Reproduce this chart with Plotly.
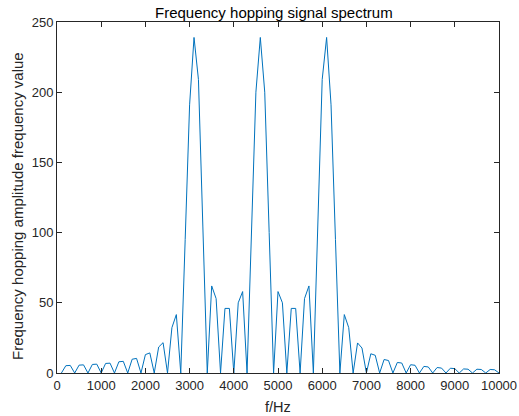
import plotly.graph_objects as go

# Frequency grid (Hz)
freq_hz = list(range(100, 10001, 100))

# Spectrum amplitude
amplitude = [
    0, 5.2, 5.4, 0, 5.6, 5.8, 0, 6.1, 6.3, 0,          # 100-1000
    6.8, 7.0, 0, 8.0, 8.3, 0, 9.8, 10.4, 0, 13.1,      # 1100-2000
    14.3, 0, 18.5, 21.6, 0, 32.3, 41.6, 0, 95, 191,    # 2100-3000
    239, 209, 104, 0, 62, 53, 0, 46, 46, 0,            # 3100-4000
    50, 58, 0, 100, 200, 239, 200, 100, 0, 58,         # 4100-5000
    50, 0, 46, 46, 0, 53, 62, 0, 104, 209,             # 5100-6000
    239, 191, 95, 0, 41.6, 32.3, 0, 21.4, 17.8, 0,     # 6100-7000
    13.7, 12.6, 0, 9.6, 8.9, 0, 7.5, 7.1, 0, 5.9,      # 7100-8000
    5.5, 0, 4.7, 4.3, 0, 3.9, 3.5, 0, 3.4, 3.1,        # 8100-9000
    0, 2.9, 2.7, 0, 2.7, 2.5, 0, 2.5, 2.3, 0,          # 9100-10000
]

x_ticks = [0, 1000, 2000, 3000, 4000, 5000, 6000, 7000, 8000, 9000, 10000]
y_ticks = [0, 50, 100, 150, 200, 250]

title_text = "Frequency hopping signal spectrum"
x_label = "f/Hz"
y_label = "Frequency hopping amplitude frequency value"

axis_color = "#262626"
font_family = "Liberation Sans, Arial, Helvetica, sans-serif"

fig = go.Figure()
fig.add_trace(go.Scatter(
    x=freq_hz, y=amplitude, mode="lines",
    line=dict(color="#0072BD", width=1),
    showlegend=False, hoverinfo="skip",
))

axis_common = dict(
    showline=True, linecolor=axis_color, linewidth=1, mirror="ticks",
    ticks="inside", ticklen=5, tickwidth=1, tickcolor=axis_color,
    showgrid=False, zeroline=False, automargin=False,
    tickfont=dict(family=font_family, size=13, color=axis_color),
)

fig.update_layout(
    width=519, height=416,
    margin=dict(l=57, r=20, t=22, b=43, autoexpand=False),
    paper_bgcolor="white", plot_bgcolor="white",
    font=dict(family=font_family, color=axis_color),
    xaxis=dict(range=[0, 10000], tickvals=x_ticks,
               ticktext=[str(v) for v in x_ticks], **axis_common),
    yaxis=dict(range=[0, 250], tickvals=y_ticks,
               ticktext=[str(v) for v in y_ticks], **axis_common),
    annotations=[
        dict(text=title_text, xref="paper", yref="paper", x=0.5, y=1,
             xanchor="center", yanchor="bottom", yshift=-1, xshift=-4,
             showarrow=False,
             font=dict(family=font_family, size=15, color="black")),
        dict(text=x_label, xref="paper", yref="paper", x=0.5, y=0,
             xanchor="center", yanchor="bottom", yshift=-43, borderpad=0,
             showarrow=False,
             font=dict(family=font_family, size=14.5, color=axis_color)),
        dict(text=y_label, xref="paper", yref="paper", x=0, y=0.5,
             xanchor="center", yanchor="middle", xshift=-39.5, yshift=-9,
             textangle=-90, showarrow=False,
             font=dict(family=font_family, size=15, color=axis_color)),
    ],
)

# Remove the default 8px body margin so the figure sits at the page origin
fig.write_html(
    "out.html",
    config={"displayModeBar": False},
    post_script="document.body.style.margin='0';document.body.style.overflow='hidden';",
)
